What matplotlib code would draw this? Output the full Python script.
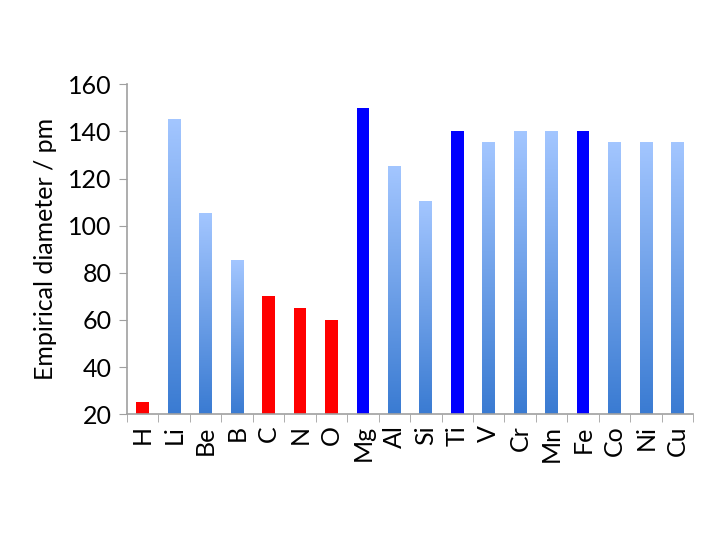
import numpy as np
import matplotlib
matplotlib.use("Agg")
import matplotlib.pyplot as plt
from matplotlib.colors import LinearSegmentedColormap

elements = ["H", "Li", "Be", "B", "C", "N", "O", "Mg", "Al", "Si", "Ti", "V",
            "Cr", "Mn", "Fe", "Co", "Ni", "Cu"]
diameters = [25, 145, 105, 85, 70, 65, 60, 150, 125, 110, 140, 135,
             140, 140, 140, 135, 135, 135]
styles = ["red", "grad", "grad", "grad", "red", "red", "red", "blue", "grad", "grad",
          "blue", "grad", "grad", "grad", "blue", "grad", "grad", "grad"]
yticks = [20, 40, 60, 80, 100, 120, 140, 160]

plt.rcParams['font.family'] = ['Lato', 'DejaVu Sans']

fig = plt.figure(figsize=(7.2, 5.4), dpi=100)
ax = fig.add_axes([0.176, 0.233, 0.787, 0.611])

x = np.arange(len(elements))
solid = {"red": "#ff0000", "blue": "#0000ff", "grad": "none"}
bars = ax.bar(x, diameters, width=0.4,
              color=[solid[s] for s in styles], zorder=2)

cmap = LinearSegmentedColormap.from_list("g", ["#3a7bd2", "#a3c6ff"])
grad = np.linspace(0, 1, 256).reshape(-1, 1)
ymin = 20
for b, s in zip(bars, styles):
    if s == "grad":
        x0 = b.get_x()
        w = b.get_width()
        h = b.get_height()
        ax.imshow(grad, cmap=cmap, origin="lower", aspect="auto",
                  extent=[x0, x0 + w, ymin, h], zorder=2)

ax.set_xlim(-0.5, len(elements) - 0.5)
ax.set_ylim(20, 160)
ax.set_yticks(yticks)
ax.set_xticks(x)
ax.set_xticklabels(elements, rotation=90, fontsize=18)
ax.set_xticks(np.arange(-0.5, len(elements)), minor=True)
ax.tick_params(axis='x', which='major', length=0, pad=8)
ax.tick_params(axis='x', which='minor', length=6, color="#a0a0a0", direction='out')
ax.tick_params(axis='y', labelsize=18, length=6, color="#a0a0a0", direction='out', pad=5)
for sp in ["top", "right"]:
    ax.spines[sp].set_visible(False)
for sp in ["left", "bottom"]:
    ax.spines[sp].set_color("#a0a0a0")
    ax.spines[sp].set_linewidth(1.2)
ax.set_ylabel("Empirical diameter / pm", fontsize=18, labelpad=8)

fig.savefig("out.png", dpi=100)
